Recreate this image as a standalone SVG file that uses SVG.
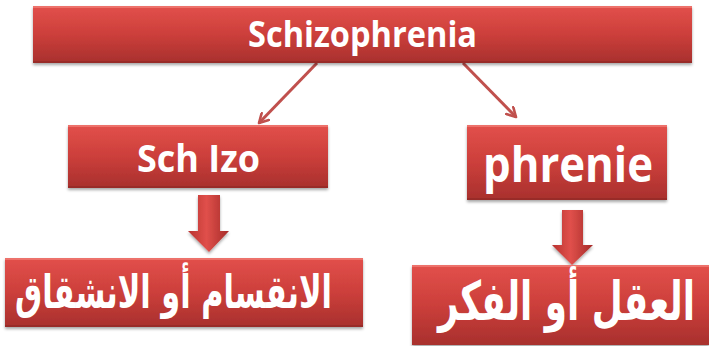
<svg xmlns="http://www.w3.org/2000/svg" width="709" height="346" viewBox="0 0 709 346">
<defs>
<linearGradient id="fill" x1="0" y1="0" x2="0" y2="1">
<stop offset="0" stop-color="#e2504b"/>
<stop offset="0.5" stop-color="#cc3f3b"/>
<stop offset="1" stop-color="#a8302d"/>
</linearGradient>
<linearGradient id="afill" x1="0" y1="0" x2="1" y2="0">
<stop offset="0" stop-color="#b8322f"/>
<stop offset="0.45" stop-color="#e0504b"/>
<stop offset="1" stop-color="#a52b29"/>
</linearGradient>
<filter id="sh" x="-5%" y="-10%" width="110%" height="130%">
<feDropShadow dx="0" dy="2" stdDeviation="1.5" flood-color="#000" flood-opacity="0.35"/>
</filter>
<marker id="chev" viewBox="0 0 12 12" refX="10" refY="6" markerWidth="12" markerHeight="12" markerUnits="userSpaceOnUse" orient="auto">
<path d="M1,1 L10,6 L1,11" fill="none" stroke="#c0504d" stroke-width="2.6" stroke-linecap="round" stroke-linejoin="round"/>
</marker>
</defs>
<style>
.box{fill:url(#fill);filter:url(#sh);}
.hl{fill:#f07a74;opacity:0.8;}
.dk{fill:#8e2624;opacity:0.6;}
.t{fill:#ffffff;font-family:"Open Sans","Liberation Sans",sans-serif;font-weight:bold;text-anchor:middle;}
.ar{fill:#ffffff;font-family:"DejaVu Sans",sans-serif;font-weight:bold;text-anchor:middle;}
.ln{stroke:#c0504d;stroke-width:3;fill:none;marker-end:url(#chev);}
.blk{fill:url(#afill);filter:url(#sh);}
</style>

<g id="connectors">
<line class="ln" x1="317" y1="63" x2="259" y2="123"/>
<line class="ln" x1="463" y1="63" x2="516" y2="117"/>
<g id="arrow-left">
<path class="blk" d="M198,195 H220 V231 H229 L209,252 L188,231 H198 Z"/>
</g>
<g id="arrow-right">
<path class="blk" d="M562,210 H583 V245 H593 L572,265 L552,245 H562 Z"/>
</g>
</g>

<g id="node-schizophrenia">
<rect class="box" x="33" y="6" width="659" height="57"/>
<rect class="hl" x="33" y="6" width="659" height="2"/>
<rect class="dk" x="33" y="61" width="659" height="2"/>
<text class="t" x="362.5" y="47" font-size="35" textLength="229" lengthAdjust="spacingAndGlyphs">Schizophrenia</text>
</g>

<g id="node-schizo">
<rect class="box" x="68" y="125" width="260" height="63"/>
<rect class="hl" x="68" y="125" width="260" height="2"/>
<rect class="dk" x="68" y="186" width="260" height="2"/>
<text class="t" x="198.5" y="172" font-size="38" textLength="123" lengthAdjust="spacingAndGlyphs">Sch Izo</text>
</g>

<g id="node-phrenie">
<rect class="box" x="467" y="125" width="200" height="75"/>
<rect class="hl" x="467" y="125" width="200" height="2"/>
<rect class="dk" x="467" y="198" width="200" height="2"/>
<text class="t" x="568" y="182" font-size="49" textLength="170" lengthAdjust="spacingAndGlyphs">phrenie</text>
</g>

<g id="node-split">
<rect class="box" x="5" y="258" width="358" height="69"/>
<rect class="hl" x="5" y="258" width="358" height="2"/>
<rect class="dk" x="5" y="325" width="358" height="2"/>
<text class="ar" transform="translate(173.5,308) scale(1,1.15)" x="0" y="0" font-size="40" textLength="317" lengthAdjust="spacingAndGlyphs">الانقسام أو الانشقاق</text>
</g>

<g id="node-mind">
<rect class="box" x="412" y="265" width="297" height="80"/>
<rect class="hl" x="412" y="265" width="297" height="2"/>
<text class="ar" transform="translate(566.5,320) scale(1,1.32)" x="0" y="0" font-size="41" textLength="257" lengthAdjust="spacingAndGlyphs">العقل أو الفكر</text>
</g>
</svg>
